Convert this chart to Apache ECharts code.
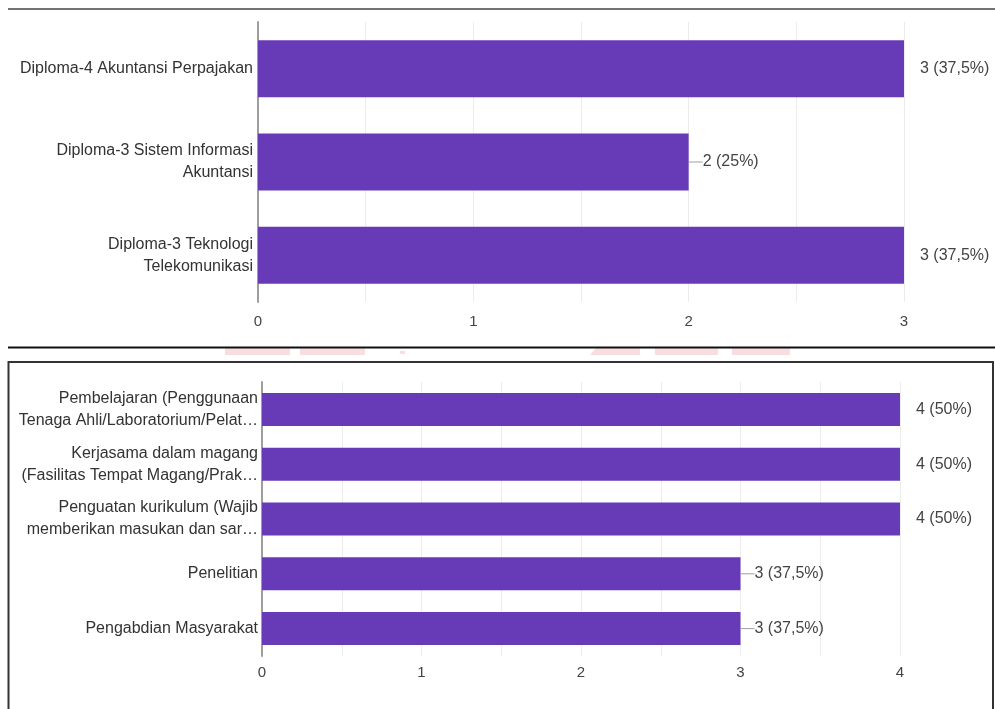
<!DOCTYPE html>
<html>
<head>
<meta charset="utf-8">
<script src="https://cdn.jsdelivr.net/npm/echarts@6/dist/echarts.min.js"></script>
<style>
html,body{margin:0;padding:0;background:#fff;}
#c{width:995px;height:709px;}
</style>
</head>
<body>
<div id="c"></div>
<script>
// ---- data: chart 1 ----
var topCategories = [
  'Diploma-4 Akuntansi Perpajakan',
  'Diploma-3 Sistem Informasi\nAkuntansi',
  'Diploma-3 Teknologi\nTelekomunikasi'
];
var topValues = [3, 2, 3];
var topPercents = ['37,5%', '25%', '37,5%'];
var topTicks = [0, 1, 2, 3];

// ---- data: chart 2 ----
var bottomCategories = [
  'Pembelajaran (Penggunaan\nTenaga Ahli/Laboratorium/Pelat\u2026',
  'Kerjasama dalam magang\n(Fasilitas Tempat Magang/Prak\u2026',
  'Penguatan kurikulum (Wajib\nmemberikan masukan dan sar\u2026',
  'Penelitian',
  'Pengabdian Masyarakat'
];
var bottomValues = [4, 4, 4, 3, 3];
var bottomPercents = ['50%', '50%', '50%', '37,5%', '37,5%'];
var bottomTicks = [0, 1, 2, 3, 4];

var FONT = '"Liberation Sans", Arial, sans-serif';
var PURPLE = '#673ab7';

function makeLabel(values, percents, maxVal) {
  return {
    show: true,
    position: 'right',
    distance: 0,
    formatter: function (p) {
      var txt = p.value + ' (' + percents[p.dataIndex] + ')';
      return (p.value >= maxVal ? '{s|}' : '{l|}') + '{t|' + txt + '}';
    },
    rich: {
      l: { width: 14, height: 1, backgroundColor: '#9e9e9e' },
      s: { width: 16, height: 1 },
      t: { fontSize: 16, color: '#444', fontFamily: FONT }
    }
  };
}

function xAxisFor(gridIndex, ticks, margin) {
  var maxV = ticks[ticks.length - 1];
  return {
    gridIndex: gridIndex,
    type: 'value',
    min: ticks[0],
    max: maxV,
    interval: 0.5,
    axisLine: { show: false },
    axisTick: { show: false },
    splitLine: { show: true, lineStyle: { color: '#ececec', width: 1 } },
    axisLabel: {
      margin: margin,
      fontSize: 15,
      color: '#444',
      fontFamily: FONT,
      formatter: function (v) {
        return ticks.indexOf(v) >= 0 ? String(v) : '';
      }
    }
  };
}

function yAxisFor(gridIndex, cats, margin) {
  return {
    gridIndex: gridIndex,
    type: 'category',
    inverse: true,
    data: cats,
    axisLine: { show: true, lineStyle: { color: '#9e9e9e', width: 2 } },
    axisTick: { show: false },
    splitLine: { show: false },
    axisLabel: {
      margin: margin,
      fontSize: 16,
      lineHeight: 22,
      color: '#333',
      fontFamily: FONT,
      align: 'right'
    }
  };
}

var chart = echarts.init(document.getElementById('c'), null, { renderer: 'canvas' });

var option = {
  backgroundColor: '#fff',
  animation: false,
  grid: [
    { left: 258, right: 91, top: 22, height: 280, containLabel: false },
    { left: 262, right: 95, top: 382, height: 274, containLabel: false }
  ],
  xAxis: [
    xAxisFor(0, topTicks, 12),
    xAxisFor(1, bottomTicks, 9)
  ],
  yAxis: [
    yAxisFor(0, topCategories, 5),
    yAxisFor(1, bottomCategories, 4)
  ],
  series: [
    {
      type: 'bar',
      xAxisIndex: 0,
      yAxisIndex: 0,
      data: topValues,
      barWidth: 57,
      itemStyle: { color: PURPLE },
      label: makeLabel(topValues, topPercents, topTicks[topTicks.length - 1])
    },
    {
      type: 'bar',
      xAxisIndex: 1,
      yAxisIndex: 1,
      data: bottomValues,
      barWidth: 33,
      itemStyle: { color: PURPLE },
      label: makeLabel(bottomValues, bottomPercents, bottomTicks[bottomTicks.length - 1])
    }
  ],
  graphic: [
    // faint watermark fragments between the two panels
    { type: 'rect', shape: { x: 225, y: 348, width: 65, height: 7 }, style: { fill: '#f8dede' }, silent: true },
    { type: 'rect', shape: { x: 300, y: 348, width: 65, height: 7 }, style: { fill: '#f8dede' }, silent: true },
    { type: 'rect', shape: { x: 400, y: 351, width: 5, height: 3 }, style: { fill: '#f8dede' }, silent: true },
    { type: 'polygon', shape: { points: [[596, 348], [640, 348], [640, 355], [590, 355]] }, style: { fill: '#f8dede' }, silent: true },
    { type: 'rect', shape: { x: 655, y: 348, width: 63, height: 7 }, style: { fill: '#f8dede' }, silent: true },
    { type: 'rect', shape: { x: 732, y: 348, width: 58, height: 7 }, style: { fill: '#f8dede' }, silent: true },
    // top rule
    { type: 'line', shape: { x1: 8, y1: 9, x2: 995, y2: 9 }, style: { stroke: '#444', lineWidth: 1.5 }, silent: true },
    // separator rule
    { type: 'line', shape: { x1: 8, y1: 347.5, x2: 995, y2: 347.5 }, style: { stroke: '#111', lineWidth: 2 }, silent: true },
    // bottom panel box
    { type: 'polyline', shape: { points: [[8.5, 709], [8.5, 362], [993, 362], [993, 709]] }, style: { stroke: '#333', lineWidth: 2, fill: null }, silent: true }
  ]
};

chart.setOption(option);
</script>
</body>
</html>
